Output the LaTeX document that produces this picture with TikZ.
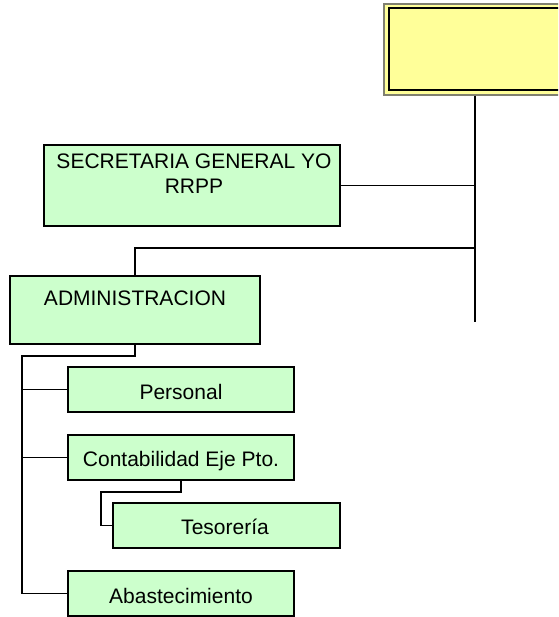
\documentclass[tikz,border=0pt]{standalone}
\usepackage{fontspec}
\setmainfont{Liberation Sans}
\definecolor{boxgreen}{HTML}{CCFFCC}
\definecolor{boxyellow}{HTML}{FFFF99}
\definecolor{outergray}{HTML}{808070}
\begin{document}
\begin{tikzpicture}[x=1pt,y=-1pt,
  gbox/.style={draw=black,line width=1.4pt,fill=boxgreen,inner sep=0pt},
  conn/.style={draw=black,line width=1.4pt},
  txt/.style={inner sep=0pt,font=\fontsize{21}{25}\selectfont,align=center}]
\clip (0,0) rectangle (558,617);
\fill[white] (0,0) rectangle (558,617);
% top box
\node[draw=outergray,line width=1.2pt,fill=boxyellow,minimum width=182pt,minimum height=91pt,inner sep=0pt] (top) at (475,49.5) {};
\draw[black,line width=1.4pt] (389,8) rectangle (570,90);
% boxes
\node[gbox,minimum width=296pt,minimum height=81pt] (sec) at (192,185.5) {};
\node[txt,anchor=base] (sectxt) at (194,168.3) {SECRETARIA GENERAL YO};
\node[txt,anchor=base] (sectxt2) at (194,193.3) {RRPP};
\node[gbox,minimum width=250pt,minimum height=68pt] (admin) at (135,310) {};
\node[txt,anchor=base] (admintxt) at (135,305) {ADMINISTRACION};
\node[gbox,minimum width=226pt,minimum height=45pt] (pers) at (181,389.5) {};
\node[txt,anchor=base] (perstxt) at (181,399.3) {Personal};
\node[gbox,minimum width=226pt,minimum height=45pt] (cont) at (181,457.5) {};
\node[txt,anchor=base] (conttxt) at (181,466) {Contabilidad Eje Pto.};
\node[gbox,minimum width=227pt,minimum height=45pt] (teso) at (226.5,525.5) {};
\node[txt,anchor=base] (tesotxt) at (225,534.3) {Tesorería};
\node[gbox,minimum width=226pt,minimum height=45pt] (abas) at (181,593.5) {};
\node[txt,anchor=base] (abastxt) at (181,603.3) {Abastecimiento};
% connectors
\coordinate (mainend) at (475,322);
\coordinate (jadm) at (475,248);
\coordinate (lb) at (22,356);
\coordinate (tj) at (101,492);
\draw[conn] (top.south) -- (mainend);
\draw[conn] (sec.east) -- (sec.east -| mainend);
\draw[conn] (jadm) -| (admin.north);
\draw[conn] (admin.south) |- (lb) |- (abas.west);
\draw[conn] (lb |- pers.west) -- (pers.west);
\draw[conn] (lb |- cont.west) -- (cont.west);
\draw[conn] (cont.south) |- (tj) |- (teso.west);
\end{tikzpicture}
\end{document}
